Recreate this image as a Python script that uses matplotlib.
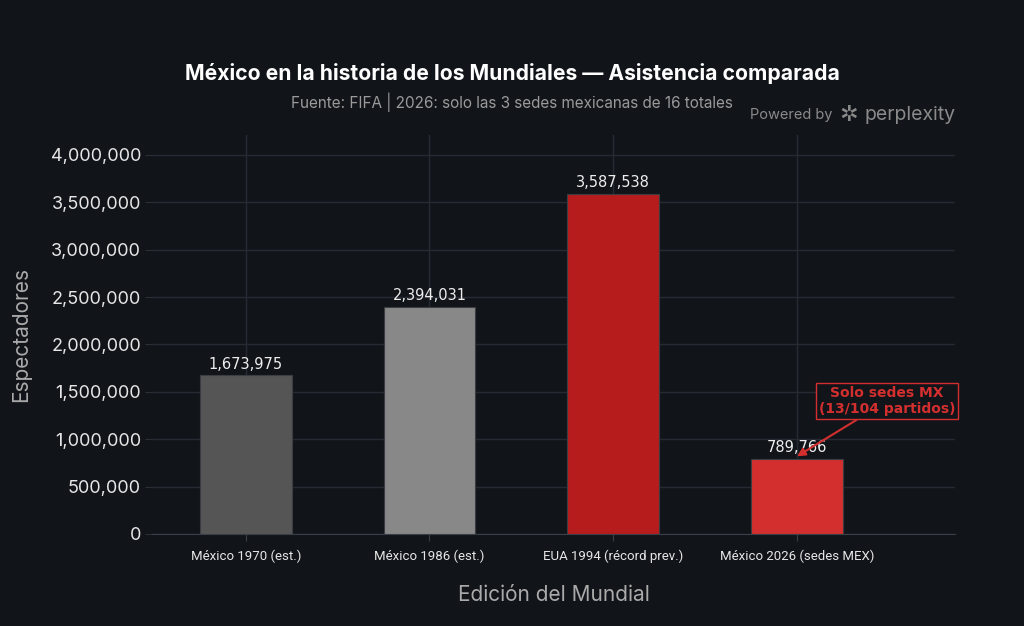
import matplotlib
matplotlib.use("Agg")
import matplotlib.pyplot as plt
from matplotlib.ticker import FuncFormatter

categories = ["México 1970 (est.)", "México 1986 (est.)", "EUA 1994 (récord prev.)", "México 2026 (sedes MEX)"]
values = [1673975, 2394031, 3587538, 789766]
colors = ["#555555", "#888888", "#b71c1c", "#d32f2f"]

BG = "#111419"
fig = plt.figure(figsize=(10.24, 6.26), dpi=100, facecolor=BG)
ax = fig.add_axes([152/1024, 1-534/626, (955-152)/1024, (534-135)/626], facecolor=BG)

x = list(range(len(categories)))
ax.bar(x, values, width=0.5, color=colors, edgecolor="#3a3d42", linewidth=0.8, zorder=3)
for xi, v in zip(x, values):
    ax.text(xi, v + 40000, f"{v:,}", ha="center", va="bottom", color="#eeeeee", fontsize=10.5, family="DejaVu Sans", zorder=4)

ax.set_xlim(-0.51, 3.86)
ax.set_ylim(0, 4210000)
ax.set_yticks(range(0, 4000001, 500000))
ax.yaxis.set_major_formatter(FuncFormatter(lambda v, p: f"{int(v):,}"))
ax.set_xticks(x)
ax.set_xticklabels(categories)
ax.grid(True, color="#262b33", linewidth=1, zorder=0)
for s in ["top", "right", "left"]:
    ax.spines[s].set_visible(False)
ax.spines["bottom"].set_color("#3a3f47")
ax.tick_params(axis="y", colors="#2a2f36", labelcolor="#e6e6e6", labelsize=13, length=5, pad=3)
ax.tick_params(axis="x", colors="#3a3f47", labelcolor="#e6e6e6", labelsize=9.5, length=5, pad=6)
for lbl in ax.get_yticklabels():
    lbl.set_family("Inter")
for lbl in ax.get_xticklabels():
    lbl.set_family("Roboto")
    lbl.set_fontstretch("condensed")

ax.set_ylabel("Espectadores", color="#aaaaaa", fontsize=15, family="Inter", labelpad=14)
ax.set_xlabel("Edición del Mundial", color="#aaaaaa", fontsize=15, family="Inter", labelpad=16)

ax.annotate("Solo sedes MX\n(13/104 partidos)", xy=(3, values[3] + 30000), xytext=(3.49, 1400000),
            ha="center", va="center", color="#d32f2f", fontsize=10, fontweight="bold", family="DejaVu Sans",
            bbox=dict(boxstyle="square,pad=0.22", fc=BG, ec="#d32f2f", lw=1),
            arrowprops=dict(arrowstyle="-|>", color="#d32f2f", lw=1.5, shrinkA=0, shrinkB=0, mutation_scale=12),
            zorder=5)

fig.text(512/1024, 1-73/626, "México en la historia de los Mundiales — Asistencia comparada", ha="center", va="center",
         color="white", fontsize=15.2, fontweight="bold", family="Inter")
fig.text(512/1024, 1-102/626, "Fuente: FIFA | 2026: solo las 3 sedes mexicanas de 16 totales", ha="center", va="center",
         color="#9a9a9a", fontsize=11, family="Inter")
fig.text(833/1024, 1-115/626, "Powered by", ha="right", va="center", color="#8a8a8a", fontsize=10.5, family="Inter")
fig.text(865/1024, 1-115/626, "perplexity", ha="left", va="center", color="#8a8a8a", fontsize=14, family="Inter")
fig.text(849/1024, 1-115/626, "✲", ha="center", va="center", color="#8a8a8a", fontsize=16, family="DejaVu Sans")

fig.savefig("out.png", dpi=100, facecolor=BG)
